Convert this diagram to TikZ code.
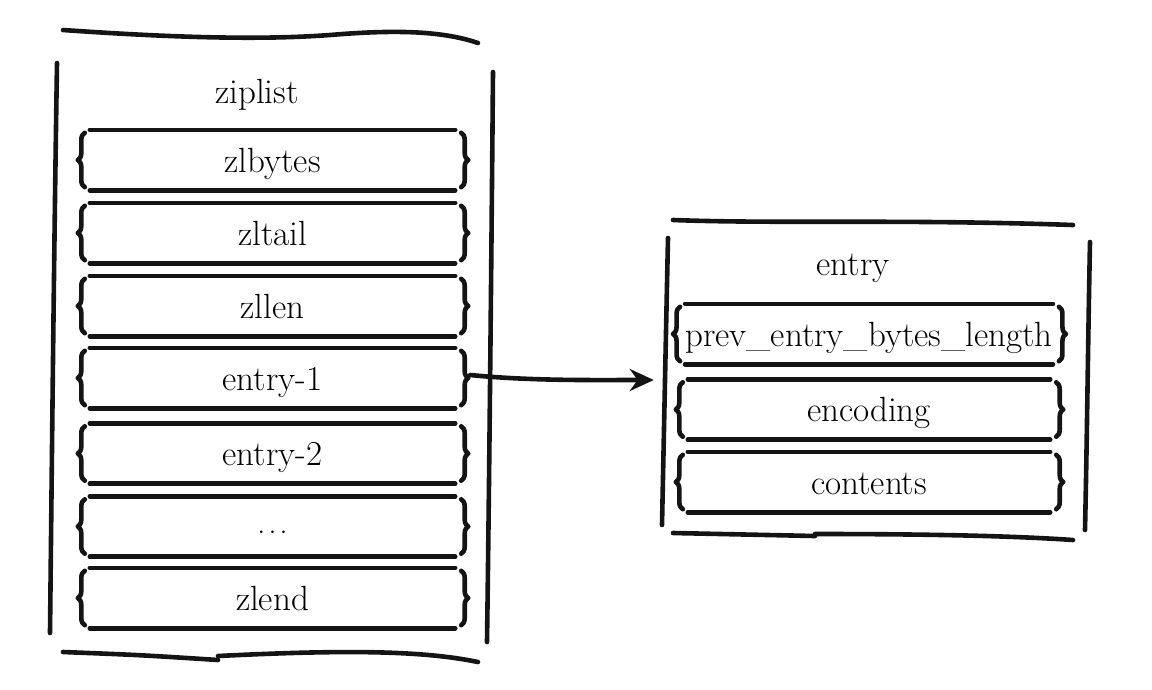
\documentclass[tikz,border=0pt]{standalone}
\usetikzlibrary{decorations.pathreplacing,arrows.meta}
\begin{document}
\begin{tikzpicture}[x=1pt,y=-1pt,
  ink/.style={line width=4.6pt, line cap=round, line join=round, black!92},
  lbl/.style={font=\fontsize{35}{40}\selectfont, text=black},
  row/.style={lbl, minimum height=60pt, inner sep=0pt, text height=28pt, text depth=4pt},
  lrow/.style={row, minimum width=365pt},
  rrow/.style={row, minimum width=362pt},
  bracepath/.style={ink, decorate, decoration={brace, amplitude=7pt, aspect=0.5}},
]
\useasboundingbox (0,0) rectangle (1152,689);

% ---- ziplist frame
\node[lbl, anchor=base] (ziptitle) at (257,103) {ziplist};
\draw[ink] (63,30) .. controls (150,36) and (250,41) .. (330,35) .. controls (390,30) and (440,30) .. (478,43);
\draw[ink] (57,63) .. controls (54,250) and (52,450) .. (50,633);
\draw[ink] (493,72) .. controls (491,300) and (489,500) .. (487,642);
\draw[ink] (63,652) .. controls (140,655) .. (218,660);
\draw[ink] (218,656) .. controls (340,650) and (420,650) .. (478,662);

% ---- ziplist rows
\node[lrow] (r1) at (272.5,160) {zlbytes};
\node[lrow] (r2) at (272.5,233) {zltail};
\node[lrow] (r3) at (272.5,306) {zllen};
\node[lrow] (r4) at (272.5,378) {entry-1};
\node[lrow] (r5) at (272.5,453.5) {entry-2};
\node[lrow] (r6) at (272.5,526.5) {$\cdots$};
\node[lrow] (r7) at (272.5,598) {zlend};

% ---- entry frame
\node[minimum width=420pt, minimum height=300pt, inner sep=0pt] (ebox) at (876,380) {};
\node[lbl, anchor=base] (etitle) at (853,275) {entry};
\draw[ink] (673,220) .. controls (780,224) and (900,219) .. (1073,225);
\draw[ink] (668,238) .. controls (666,330) and (664,430) .. (662,525);
\draw[ink] (1090,242) .. controls (1088,340) and (1087,440) .. (1085,530);
\draw[ink] (673,533) -- (815,536);
\draw[ink] (815,534) .. controls (900,534) and (1000,535) .. (1073,540);

% ---- entry rows
\node[rrow] (s1) at (869,334) {prev\_entry\_bytes\_length};
\node[rrow] (s2) at (869,409.5) {encoding};
\node[rrow] (s3) at (869,482) {contents};

% ---- row lines and braces
\foreach \n in {r1,r2,r3,r4,r5,r6,r7,s1,s2,s3} {
  \draw[ink] (\n.north west) -- (\n.north east);
  \draw[ink] (\n.south west) -- (\n.south east);
  \draw[bracepath] ([xshift=-5pt,yshift=3pt]\n.south west) -- ([xshift=-5pt,yshift=-3pt]\n.north west);
  \draw[bracepath] ([xshift=6pt,yshift=-3pt]\n.north east) -- ([xshift=6pt,yshift=3pt]\n.south east);
}

% ---- arrow
\draw[ink, -{Stealth[length=24pt,width=22pt]}] ([xshift=15pt,yshift=3pt]r4.east) .. controls +(60,6) and +(-60,0) .. ([xshift=-12pt]ebox.west);
\end{tikzpicture}
\end{document}
